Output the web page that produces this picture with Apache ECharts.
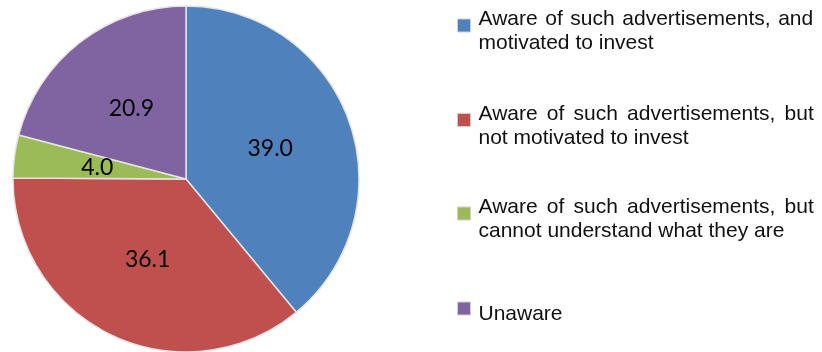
<!DOCTYPE html>
<html>
<head>
<meta charset="utf-8">
<script src="https://cdn.jsdelivr.net/npm/echarts@6/dist/echarts.min.js"></script>
<style>
  html, body { margin: 0; padding: 0; background: #ffffff; }
  #chart { width: 822px; height: 352px; }
</style>
</head>
<body>
<div id="chart"></div>
<script>
// Survey responses (percent of respondents)
const categories = [
  'Aware of such advertisements, and motivated to invest',
  'Aware of such advertisements, but not motivated to invest',
  'Aware of such advertisements, but cannot understand what they are',
  'Unaware'
];
const shares = [39.0, 36.1, 4.0, 20.9];
const colors = ['#4F81BD', '#C0504D', '#9BBB59', '#8064A2'];

// Legend rows: vertical centre of each legend marker and word spacing of the justified first line
const legendIconY = [25.5, 120, 213.5, 308.5];
const legendSpace = [7.6, 9.2, 9.2, 0];

const chart = echarts.init(document.getElementById('chart'), null, { renderer: 'canvas' });

// Break a legend label after "advertisements," and stretch the first line's spaces
function legendText(name, idx) {
  const cut = name.indexOf(',');
  if (cut < 0) return name;
  const first = name.slice(0, cut + 1).split(' ').concat([name.slice(cut + 2).split(' ')[0]]);
  const rest = name.slice(cut + 2).split(' ').slice(1).join(' ');
  return first.join('{s' + idx + '| }') + '\n' + rest;
}

const TEXT_PAD_TOP = 12;
const LINE_H = 24;

const rich = {};
legendSpace.forEach(function (w, i) {
  rich['s' + i] = { width: w, fontSize: 21, fontFamily: 'Liberation Sans', lineHeight: LINE_H };
});

const legends = categories.map(function (name, i) {
  const lines = legendText(name, i).split('\n').length;
  const boxH = lines * LINE_H + TEXT_PAD_TOP;
  return {
    orient: 'vertical',
    left: 457,
    top: legendIconY[i] - boxH / 2,
    padding: 0,
    itemWidth: 13,
    itemHeight: 13,
    icon: 'rect',
    selectedMode: false,
    data: [{ name: name, itemStyle: { borderColor: '#cfcfcf', borderWidth: 1 } }],
    formatter: function (n) { return legendText(n, i); },
    textStyle: {
      fontFamily: 'Liberation Sans',
      fontSize: 21,
      lineHeight: LINE_H,
      color: '#111111',
      padding: [TEXT_PAD_TOP, 0, 0, 3],
      rich: rich
    }
  };
});

chart.setOption({
  animation: false,
  color: colors,
  legend: legends,
  series: [{
    type: 'pie',
    center: [186, 179],
    radius: 173,
    startAngle: 90,
    clockwise: true,
    silent: true,
    data: categories.map(function (c, i) { return { name: c, value: shares[i] }; }),
    itemStyle: { borderColor: '#e4e4e4', borderWidth: 1.5 },
    label: {
      show: true,
      position: 'inside',
      formatter: function (p) { return p.value.toFixed(1); },
      fontFamily: 'Lato',
      fontSize: 23,
      color: '#000000'
    },
    labelLine: { show: false },
    emphasis: { disabled: true }
  }]
});
</script>
</body>
</html>
